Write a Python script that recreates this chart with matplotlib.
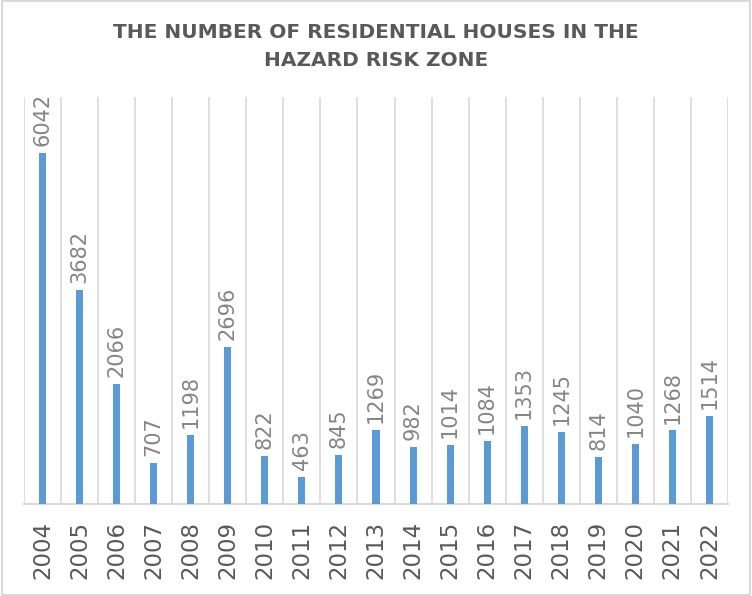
import numpy as np
import matplotlib.pyplot as plt
from matplotlib.patches import Rectangle

years = ['2004', '2005', '2006', '2007', '2008', '2009', '2010', '2011', '2012', '2013',
         '2014', '2015', '2016', '2017', '2018', '2019', '2020', '2021', '2022']
houses = [6042, 3682, 2066, 707, 1198, 2696, 822, 463, 845, 1269,
          982, 1014, 1084, 1353, 1245, 814, 1040, 1268, 1514]

fig = plt.figure(figsize=(7.52, 5.96), dpi=100)
ax = fig.add_axes([0.032, 0.154, 0.936, 0.683])

x = np.arange(len(years))
ax.bar(x, houses, width=0.19, color='#5b9bd5', zorder=3)

# labels above the bars
for xi, v in zip(x, houses):
    ax.annotate(str(v), (xi, v), xytext=(0, 5), textcoords='offset points',
                rotation=90, ha='center', va='bottom', fontsize=15, color='#858585')

# gridlines between categories, like Excel
for b in np.arange(-0.5, len(years), 1.0):
    ax.axvline(b, color='#d9d9d9', lw=1.2, zorder=1)

ax.set_xlim(-0.5, len(years) - 0.5)
ax.set_ylim(0, 7000)
ax.set_xticks(x)
ax.set_xticklabels(years, rotation=90, fontsize=16.5, color='#595959')
ax.tick_params(axis='x', length=0, pad=12)
ax.set_yticks([])
for s in ['top', 'left', 'right']:
    ax.spines[s].set_visible(False)
ax.spines['bottom'].set_color('#d9d9d9')
ax.spines['bottom'].set_linewidth(1.5)

fig.text(0.5, 0.945, 'THE NUMBER OF RESIDENTIAL HOUSES IN THE', ha='center', va='center',
         fontsize=14.5, fontweight='bold', color='#595959')
fig.text(0.5, 0.899, 'HAZARD RISK ZONE', ha='center', va='center',
         fontsize=14.5, fontweight='bold', color='#595959')

fig.patches.append(Rectangle((0.002, 0.002), 0.996, 0.996, transform=fig.transFigure,
                             fill=False, edgecolor='#d9d9d9', lw=1.5))

fig.savefig('out.png', dpi=100)
